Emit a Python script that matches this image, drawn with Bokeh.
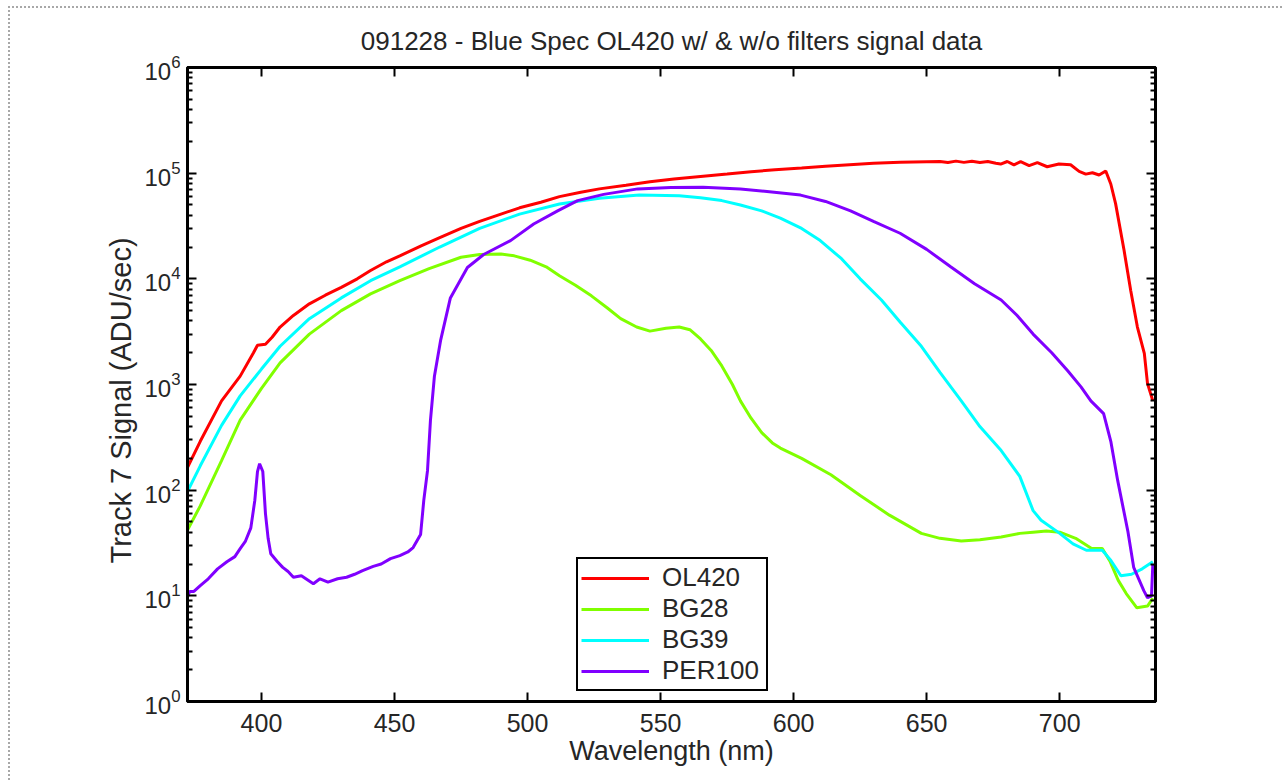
from bokeh.plotting import figure
from bokeh.models import (LinearAxis, LogAxis, FixedTicker, CustomJSTickFormatter,
                          Legend, LegendItem, Range1d, Title)
from bokeh.embed import file_html
from bokeh.resources import INLINE

TITLE = "091228 - Blue Spec OL420 w/ & w/o filters signal data"
X_LABEL = "Wavelength (nm)"
Y_LABEL = "Track 7 Signal (ADU/sec)"
X_TICKS = [400, 450, 500, 550, 600, 650, 700]
Y_TICKS = [1, 10, 100, 1000, 10000, 100000, 1000000]

ol420_wl = [372, 377, 385, 392, 397, 398.5, 401.5, 404, 407, 412, 418, 424, 430, 436, 441, 447,
            452, 460, 467, 475, 482, 490, 497, 505, 512, 520, 527, 537, 546, 555, 565, 575,
            584, 593, 603, 612, 621, 630, 640, 650, 655, 658, 661, 664, 667, 670, 673, 676,
            677.8, 680.3, 682.8, 685.3, 688.5, 691.6, 695.3, 699.7, 704.1, 707.3, 709.8,
            712.3, 714.8, 717.3, 719.2, 721, 724.2, 726.7, 729.2, 731.8, 733, 735]
ol420_val = [160, 290, 700, 1200, 2000, 2350, 2400, 2800, 3500, 4500, 5800, 7000, 8300, 10000,
             12000, 14500, 16500, 20500, 24500, 30000, 35000, 41000, 47000, 53000, 60000,
             66000, 71000, 77000, 83000, 88000, 93000, 98000, 103000, 108000, 112000, 116000,
             120000, 124000, 127000, 128500, 129000, 126000, 130000, 126500, 129500, 126000,
             129000, 124000, 122000, 129000, 120000, 128500, 118000, 126000, 115000, 122000,
             120000, 104000, 98000, 101000, 96000, 105000, 79000, 51500, 18500, 7700, 3500,
             1970, 1020, 700]

bg28_wl = [372, 377, 385, 392, 400, 407, 418, 430, 441, 452, 463, 475, 482, 490, 495, 501, 507,
           512, 518, 524, 530, 535, 541, 546, 552, 557, 561, 565, 569, 573, 577, 580, 584, 588,
           592, 595, 603, 614, 625, 636, 648, 655, 663, 670, 678, 685, 690, 695, 700, 706, 712,
           716, 719, 722, 725, 729, 733, 735]
bg28_val = [41, 71, 190, 460, 920, 1600, 3000, 5000, 7200, 9600, 12500, 16000, 17000, 17200,
            16500, 15000, 13000, 10700, 8700, 6900, 5300, 4200, 3500, 3200, 3400, 3500, 3300,
            2700, 2100, 1500, 1000, 700, 480, 350, 280, 250, 200, 140, 89, 58, 39, 35, 33, 34,
            36, 39, 40, 41, 40, 35, 28, 28, 21, 14, 10.5, 7.7, 8, 9.5]

bg39_wl = [372, 377, 385, 392, 400, 407, 418, 430, 441, 452, 467, 482, 497, 512, 527, 542, 557,
           565, 573, 580, 588, 595, 603, 610, 618, 625, 633, 640, 648, 655, 663, 670, 678, 685,
           690, 693, 700, 705, 710, 716, 719, 723, 727, 731, 735]
bg39_val = [95, 170, 410, 780, 1400, 2300, 4200, 6600, 9600, 13000, 20000, 30000, 41000, 51000,
            58000, 62000, 61000, 58500, 55000, 50000, 44000, 37500, 30000, 23000, 15500, 10000,
            6300, 3900, 2300, 1300, 700, 400, 237, 135, 64, 52, 39, 31, 27, 27, 22, 15.5, 16,
            18, 21]

per100_wl = [372, 373, 374.6, 377, 380, 383.5, 387, 390, 392, 394, 396, 397.5, 398.5, 399.3,
             400.5, 401.5, 402.5, 403.5, 406, 408, 410, 412, 415, 419.5, 422, 425, 428.6, 432,
             435, 438, 442, 445, 448.5, 452, 455, 457, 459.8, 461, 462.4, 463.5, 465, 467.3,
             471, 477.4, 483.5, 493.6, 502.3, 511.3, 518.8, 528.6, 541.4, 553.8, 566, 580, 590,
             602.6, 612, 621.4, 630, 640, 650, 659, 668, 678, 684, 690, 697, 703, 708, 711.7,
             716.5, 719.2, 721.8, 725.6, 727.8, 731.6, 733, 734.5, 735]
per100_val = [9.5, 11, 11, 12.5, 14.5, 18, 21, 23.5, 28, 33, 44, 80, 150, 178, 150, 60, 35, 25,
              21, 18.6, 17, 15, 15.5, 13, 14.5, 13.5, 14.5, 15, 16, 17.3, 19, 20, 22.5, 24, 26,
              28.6, 38, 80, 153, 455, 1200, 2600, 6600, 12800, 17000, 23000, 33000, 44000,
              55000, 63000, 71000, 73000, 73500, 71000, 67000, 62000, 54000, 44000, 35000,
              27000, 19000, 13000, 9000, 6300, 4500, 3000, 2000, 1350, 950, 700, 530, 290, 123,
              41, 18.6, 11.2, 9.6, 10, 20]

SERIES = [("OL420", ol420_wl, ol420_val, "#ff0000"),
          ("BG28", bg28_wl, bg28_val, "#80ff00"),
          ("BG39", bg39_wl, bg39_val, "#00ffff"),
          ("PER100", per100_wl, per100_val, "#8000ff")]

FONT = "Liberation Sans"
TXT = "#262626"

p = figure(width=1274, height=774, y_axis_type="log",
           x_range=Range1d(372.2, 736), y_range=Range1d(1, 1e6),
           output_backend="svg", toolbar_location=None,
           min_border_left=177, min_border_right=129, min_border_top=59, min_border_bottom=81,
           title=TITLE)
p.styles = {"border-top": "2px dotted #a8a8a8", "border-left": "2px dotted #a8a8a8",
            "margin-left": "8px", "margin-top": "6px"}
p.title.align = "center"
p.title.text_font = FONT
p.title.text_font_size = "26px"
p.title.text_font_style = "normal"
p.title.text_color = TXT
p.title.standoff = 23
p.xgrid.visible = False
p.ygrid.visible = False
p.outline_line_color = "black"
p.outline_line_width = 3

minor = [m * 10 ** k for k in range(6) for m in range(2, 10)]

def style_axis(ax):
    ax.axis_line_width = 3
    ax.axis_line_color = "black"
    ax.major_tick_in = 9
    ax.major_tick_out = 0
    ax.major_tick_line_width = 2
    ax.minor_tick_in = 5
    ax.minor_tick_out = 0
    ax.minor_tick_line_width = 2
    ax.major_label_text_font = FONT
    ax.major_label_text_color = TXT
    ax.axis_label_text_font = FONT
    ax.axis_label_text_color = TXT
    ax.axis_label_text_font_style = "normal"
    ax.axis_label_text_font_size = "27px"

xa = p.xaxis[0]
xa.ticker = FixedTicker(ticks=X_TICKS)
style_axis(xa)
xa.major_label_text_font_size = "25px"
xa.major_label_standoff = 12
xa.axis_label = X_LABEL
xa.axis_label_standoff = 1

ya = p.yaxis[0]
ya.ticker = FixedTicker(ticks=Y_TICKS, minor_ticks=minor)
style_axis(ya)
ya.major_label_text_font_size = "24px"
ya.major_label_standoff = 7

# y-axis label as a side title so it can be shifted along the axis like the original
ytitle = Title(text=Y_LABEL, align="left", text_font=FONT, text_font_size="29px",
               text_font_style="normal", text_color=TXT, offset=138, standoff=10)
p.add_layout(ytitle, "left")

# box ticks on the top and right sides (no labels)
top = LinearAxis(ticker=FixedTicker(ticks=X_TICKS), formatter=CustomJSTickFormatter(code="return '';"))
style_axis(top)
p.add_layout(top, "above")
right = LogAxis(ticker=FixedTicker(ticks=Y_TICKS, minor_ticks=minor),
                formatter=CustomJSTickFormatter(code="return '';"))
style_axis(right)
p.add_layout(right, "right")

items = []
for name, wl, val, col in SERIES:
    r = p.line(wl, val, line_color=col, line_width=3)
    items.append(LegendItem(label=name, renderers=[r]))

leg = Legend(items=items, location=(389, 10))
leg.border_line_color = "black"
leg.border_line_width = 2
leg.border_line_alpha = 1
leg.background_fill_color = "white"
leg.background_fill_alpha = 1
leg.label_text_font = FONT
leg.label_text_font_size = "26px"
leg.label_text_color = TXT
leg.glyph_width = 68
leg.glyph_height = 24
leg.label_height = 24
leg.label_width = 101
leg.label_standoff = 13
leg.spacing = 0
leg.padding = 3
leg.margin = 0
p.add_layout(leg, "center")

with open("out.html", "w", encoding="utf-8") as f:
    f.write(file_html(p, INLINE))
